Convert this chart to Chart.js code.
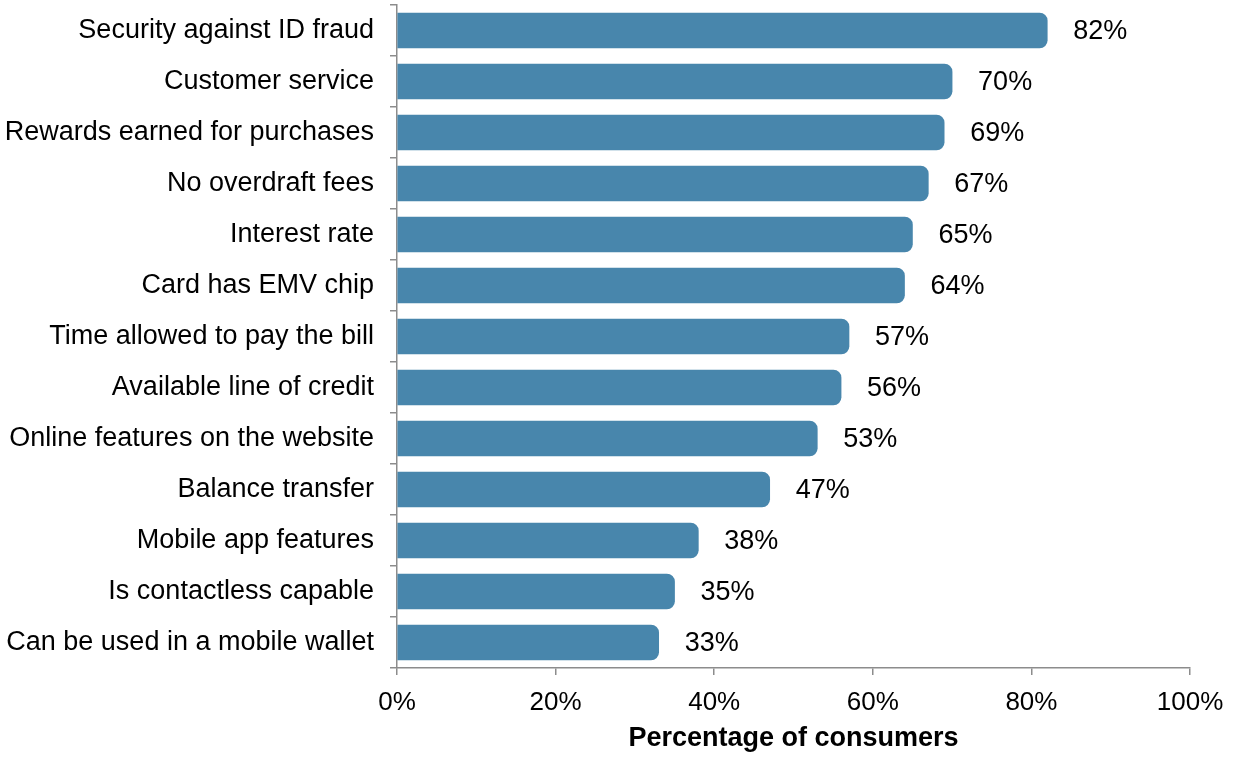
<!DOCTYPE html>
<html>
<head>
<meta charset="utf-8">
<script src="https://cdn.jsdelivr.net/npm/chart.js@4/dist/chart.umd.min.js"></script>
<style>
  html, body { margin: 0; padding: 0; background: #fff; }
  #wrap { width: 1239px; height: 757px; }
</style>
</head>
<body>
<div id="wrap"><canvas id="chart" width="1239" height="757"></canvas></div>
<script>
const categories = [
  'Security against ID fraud',
  'Customer service',
  'Rewards earned for purchases',
  'No overdraft fees',
  'Interest rate',
  'Card has EMV chip',
  'Time allowed to pay the bill',
  'Available line of credit',
  'Online features on the website',
  'Balance transfer',
  'Mobile app features',
  'Is contactless capable',
  'Can be used in a mobile wallet'
];
const shares = [82, 70, 69, 67, 65, 64, 57, 56, 53, 47, 38, 35, 33];
const xTicks = [0, 20, 40, 60, 80, 100];

const FONT = '"Liberation Sans", Arial, sans-serif';
const BAR  = '#4886ac';
const AXIS = '#8c8c8c';

// value labels to the right of each bar
const valueLabels = {
  id: 'valueLabels',
  afterDatasetsDraw(chart) {
    const ctx = chart.ctx;
    const meta = chart.getDatasetMeta(0);
    ctx.save();
    ctx.font = `27px ${FONT}`;
    ctx.fillStyle = '#000';
    ctx.textAlign = 'left';
    ctx.textBaseline = 'middle';
    meta.data.forEach((bar, i) => {
      ctx.fillText(`${shares[i]}%`, bar.x + 26, bar.y + 1);
    });
    ctx.restore();
  }
};

new Chart(document.getElementById('chart'), {
  type: 'bar',
  data: {
    labels: categories,
    datasets: [{
      data: shares,
      backgroundColor: BAR,
      borderSkipped: 'start',
      borderRadius: { topRight: 8, bottomRight: 8, topLeft: 0, bottomLeft: 0 },
      barThickness: 35
    }]
  },
  options: {
    indexAxis: 'y',
    responsive: false,
    animation: false,
    devicePixelRatio: 1,
    layout: { padding: { top: 5, right: 49, bottom: 0, left: 0 } },
    plugins: { legend: { display: false }, tooltip: { enabled: false } },
    scales: {
      y: {
        afterFit(scale) {
          scale.width = 397;
          scale.paddingTop = 0;
          scale.paddingBottom = 0;
        },
        grid: { display: true, drawOnChartArea: false, offset: true, tickLength: 7, color: AXIS, lineWidth: 1.5 },
        border: { display: true, color: AXIS, width: 1.5 },
        ticks: { color: '#000', font: { family: FONT, size: 27 }, padding: 16 }
      },
      x: {
        min: 0,
        max: 100,
        afterFit(scale) {
          scale.height = 89;
          scale.paddingLeft = 0;
          scale.paddingRight = 0;
        },
        afterBuildTicks(scale) { scale.ticks = xTicks.map(v => ({ value: v })); },
        grid: { display: true, drawOnChartArea: false, tickLength: 7, color: AXIS, lineWidth: 1.5 },
        border: { display: true, color: AXIS, width: 1.5 },
        ticks: {
          color: '#000',
          font: { family: FONT, size: 26 },
          padding: 12,
          maxRotation: 0,
          callback: v => `${v}%`
        },
        title: {
          display: true,
          text: 'Percentage of consumers',
          color: '#000',
          font: { family: FONT, size: 27, weight: 'bold' },
          padding: { top: 0, bottom: 2 }
        }
      }
    }
  },
  plugins: [valueLabels]
});
</script>
</body>
</html>
